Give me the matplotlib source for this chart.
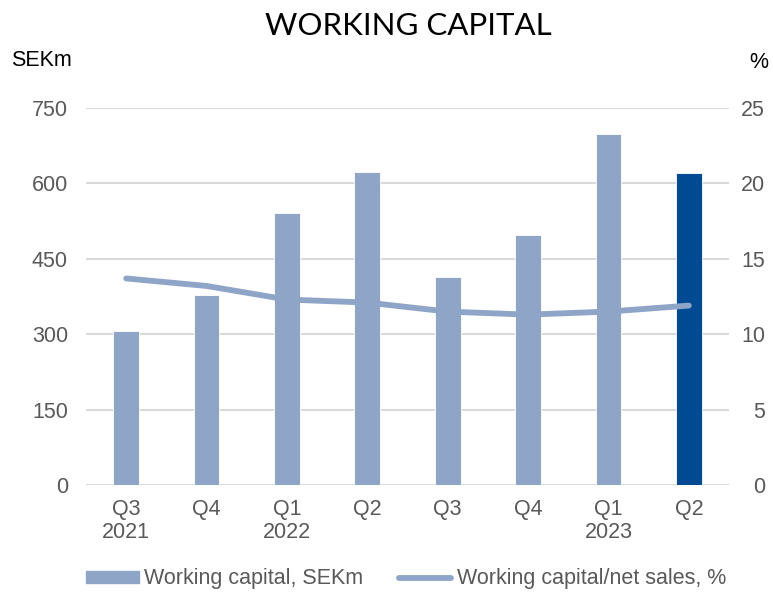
import matplotlib
matplotlib.use("Agg")
import matplotlib.pyplot as plt
from matplotlib.lines import Line2D
from matplotlib.patches import Patch

# data
quarters = ["Q3\n2021", "Q4", "Q1\n2022", "Q2", "Q3", "Q4", "Q1\n2023", "Q2"]
working_capital = [306, 378, 541, 623, 414, 497, 698, 621]
wc_pct_sales = [13.7, 13.2, 12.3, 12.1, 11.5, 11.3, 11.5, 11.9]

light = "#8FA5C8"
dark = "#004A93"
grey_txt = "#595959"
fs = 15.5

plt.rcParams['font.family'] = ['Liberation Sans', 'DejaVu Sans']

fig = plt.figure(figsize=(7.73, 5.92), dpi=100)
ax = fig.add_axes([0.1113, 0.1807, 0.8318, 0.6368])
ax2 = ax.twinx()

x = list(range(len(quarters)))
colors = [light] * (len(quarters) - 1) + [dark]
ax.bar(x, working_capital, width=0.32, color=colors, edgecolor='white', linewidth=0.6, zorder=3)
ax.set_ylim(0, 750)
ax.set_yticks([0, 150, 300, 450, 600, 750])
ax.set_xlim(-0.5, len(quarters) - 0.5)
ax.set_xticks(x)
ax.set_xticklabels(quarters, linespacing=1.15)
ax.grid(axis='y', color='#D9D9D9', linewidth=1.5, zorder=0)
ax.set_axisbelow(True)

ax2.plot(x, wc_pct_sales, color=light, linewidth=4.2, solid_capstyle='round', zorder=4)
ax2.set_ylim(0, 25)
ax2.set_yticks([0, 5, 10, 15, 20, 25])

for a in (ax, ax2):
    for s in a.spines.values():
        s.set_visible(False)
    a.tick_params(length=0, labelsize=fs, labelcolor=grey_txt)
ax.tick_params(axis='y', pad=13)
ax.tick_params(axis='x', pad=10)
ax2.tick_params(axis='y', pad=26)
for lbl in ax2.get_yticklabels():
    lbl.set_horizontalalignment('right')

fig.text(0.528, 0.956, "WORKING CAPITAL", ha='center', va='center', fontsize=22.5,
         family=['Lato', 'DejaVu Sans'])
fig.text(0.014, 0.897, "SEKm", ha='left', va='center', fontsize=fs)
fig.text(0.969, 0.895, "%", ha='left', va='center', fontsize=fs)

# legend sits at the very bottom edge, like the reference
handles = [Patch(color=light), Line2D([0], [0], color=light, linewidth=4.2, solid_capstyle='round')]
labels = ["Working capital, SEKm", "Working capital/net sales, %"]
fig.legend(handles, labels, loc='center left', bbox_to_anchor=(0.111, 0.022), ncol=2, frameon=False,
           fontsize=fs, labelcolor=grey_txt, handlelength=2.45, handleheight=0.5,
           handletextpad=0.25, columnspacing=1.65, borderpad=0, borderaxespad=0)

fig.savefig("out.png", dpi=100)
